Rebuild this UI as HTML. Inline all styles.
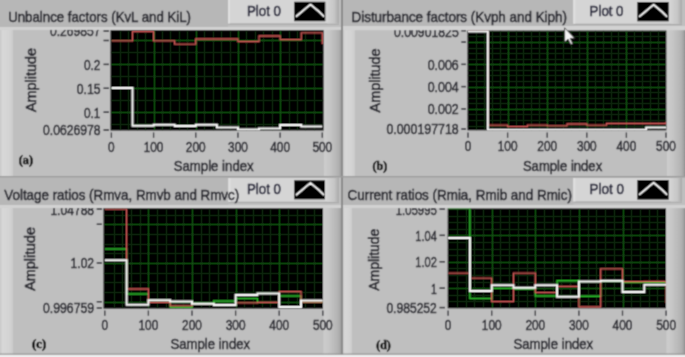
<!DOCTYPE html>
<html><head><meta charset="utf-8"><title>Charts</title>
<style>
html,body{margin:0;padding:0;background:#c3c3c3;}
body{width:685px;height:357px;overflow:hidden;}
svg{display:block;}
</style></head><body>
<svg width="685" height="357" viewBox="0 0 685 357">
<defs><filter id="bl" x="0" y="0" width="1" height="1"><feConvolveMatrix order="3" kernelMatrix="1 3 1 3 9 3 1 3 1" edgeMode="duplicate"/></filter><linearGradient id="rgrad" x1="0" x2="1" y1="0" y2="0"><stop offset="0" stop-color="#cdcdcd"/><stop offset="0.3" stop-color="#c6c6c6"/><stop offset="0.75" stop-color="#b4b4b4"/><stop offset="0.9" stop-color="#a8a8a8"/><stop offset="1" stop-color="#8e8e8e"/></linearGradient><linearGradient id="lsg" x1="0" x2="1" y1="0" y2="0"><stop offset="0" stop-color="#c8c8c8"/><stop offset="0.2" stop-color="#d8d8d8"/><stop offset="0.8" stop-color="#d2d2d2"/><stop offset="1" stop-color="#cacaca"/></linearGradient><linearGradient id="lgrad" x1="0" x2="1" y1="0" y2="0"><stop offset="0" stop-color="#d3d3d3"/><stop offset="0.6" stop-color="#c6c6c6"/><stop offset="1" stop-color="#a8a8a8"/></linearGradient></defs>
<g filter="url(#bl)">
<rect width="685" height="357" fill="#bfbfbf"/>
<rect x="0" y="0" width="342" height="177" fill="#bfbfbf"/>
<rect x="0" y="27" width="13" height="150" fill="url(#lsg)"/>
<rect x="324" y="27" width="18" height="150" fill="url(#rgrad)"/>
<clipPath id="ca"><rect x="110.5" y="30.2" width="213.10000000000002" height="100.3"/></clipPath>
<rect x="110.5" y="30.2" width="213.10000000000002" height="100.3" fill="#000"/>
<g clip-path="url(#ca)">
<line x1="120.50" y1="30.2" x2="120.50" y2="130.5" stroke="#092b09" stroke-width="1"/>
<line x1="128.50" y1="30.2" x2="128.50" y2="130.5" stroke="#092b09" stroke-width="1"/>
<line x1="137.50" y1="30.2" x2="137.50" y2="130.5" stroke="#092b09" stroke-width="1"/>
<line x1="145.50" y1="30.2" x2="145.50" y2="130.5" stroke="#092b09" stroke-width="1"/>
<line x1="162.50" y1="30.2" x2="162.50" y2="130.5" stroke="#092b09" stroke-width="1"/>
<line x1="170.50" y1="30.2" x2="170.50" y2="130.5" stroke="#092b09" stroke-width="1"/>
<line x1="179.50" y1="30.2" x2="179.50" y2="130.5" stroke="#092b09" stroke-width="1"/>
<line x1="187.50" y1="30.2" x2="187.50" y2="130.5" stroke="#092b09" stroke-width="1"/>
<line x1="204.50" y1="30.2" x2="204.50" y2="130.5" stroke="#092b09" stroke-width="1"/>
<line x1="213.50" y1="30.2" x2="213.50" y2="130.5" stroke="#092b09" stroke-width="1"/>
<line x1="221.50" y1="30.2" x2="221.50" y2="130.5" stroke="#092b09" stroke-width="1"/>
<line x1="230.50" y1="30.2" x2="230.50" y2="130.5" stroke="#092b09" stroke-width="1"/>
<line x1="246.50" y1="30.2" x2="246.50" y2="130.5" stroke="#092b09" stroke-width="1"/>
<line x1="255.50" y1="30.2" x2="255.50" y2="130.5" stroke="#092b09" stroke-width="1"/>
<line x1="263.50" y1="30.2" x2="263.50" y2="130.5" stroke="#092b09" stroke-width="1"/>
<line x1="272.50" y1="30.2" x2="272.50" y2="130.5" stroke="#092b09" stroke-width="1"/>
<line x1="289.50" y1="30.2" x2="289.50" y2="130.5" stroke="#092b09" stroke-width="1"/>
<line x1="297.50" y1="30.2" x2="297.50" y2="130.5" stroke="#092b09" stroke-width="1"/>
<line x1="305.50" y1="30.2" x2="305.50" y2="130.5" stroke="#092b09" stroke-width="1"/>
<line x1="314.50" y1="30.2" x2="314.50" y2="130.5" stroke="#092b09" stroke-width="1"/>
<line x1="110.5" y1="124.50" x2="323.6" y2="124.50" stroke="#092b09" stroke-width="1"/>
<line x1="110.5" y1="100.50" x2="323.6" y2="100.50" stroke="#092b09" stroke-width="1"/>
<line x1="110.5" y1="76.50" x2="323.6" y2="76.50" stroke="#092b09" stroke-width="1"/>
<line x1="110.5" y1="52.50" x2="323.6" y2="52.50" stroke="#092b09" stroke-width="1"/>
<line x1="154.50" y1="30.2" x2="154.50" y2="130.5" stroke="#135413" stroke-width="1"/>
<line x1="196.50" y1="30.2" x2="196.50" y2="130.5" stroke="#135413" stroke-width="1"/>
<line x1="238.50" y1="30.2" x2="238.50" y2="130.5" stroke="#135413" stroke-width="1"/>
<line x1="280.50" y1="30.2" x2="280.50" y2="130.5" stroke="#135413" stroke-width="1"/>
<line x1="110.5" y1="112.50" x2="323.6" y2="112.50" stroke="#135413" stroke-width="1"/>
<line x1="110.5" y1="88.50" x2="323.6" y2="88.50" stroke="#135413" stroke-width="1"/>
<line x1="110.5" y1="64.50" x2="323.6" y2="64.50" stroke="#135413" stroke-width="1"/>
<line x1="110.5" y1="40.50" x2="323.6" y2="40.50" stroke="#135413" stroke-width="1"/>
<polyline points="111.40,40.90 132.49,40.90 132.49,31.60 153.58,31.60 153.58,40.90 174.67,40.90 174.67,44.10 195.76,44.10 195.76,39.00 216.85,39.00 216.85,39.00 237.94,39.00 237.94,41.60 259.03,41.60 259.03,36.00 280.12,36.00 280.12,39.60 301.21,39.60 301.21,32.90 322.30,32.90 322.30,44.00" fill="none" stroke="#cf5856" stroke-width="1.3" stroke-linejoin="miter"/>
<polyline points="111.40,88.10 132.49,88.10 132.49,125.70 153.58,125.70 153.58,124.70 174.67,124.70 174.67,125.90 195.76,125.90 195.76,124.70 216.85,124.70 216.85,127.40 237.94,127.40 237.94,129.50 259.03,129.50 259.03,128.40 280.12,128.40 280.12,125.00 301.21,125.00 301.21,126.50 322.30,126.50" fill="none" stroke="#f8f8f8" stroke-width="2.0" stroke-linejoin="miter"/>
</g>
<text x="50.00" y="36.20" font-family="'Liberation Sans', 'DejaVu Sans', sans-serif" font-size="14.5" font-weight="normal" fill="#24242c" textLength="50.50" lengthAdjust="spacingAndGlyphs" stroke="#24242c" stroke-width="0.5">0.269857</text>
<text x="83.90" y="69.78" font-family="'Liberation Sans', 'DejaVu Sans', sans-serif" font-size="14.5" font-weight="normal" fill="#24242c" textLength="16.60" lengthAdjust="spacingAndGlyphs" stroke="#24242c" stroke-width="0.5">0.2</text>
<text x="76.70" y="93.68" font-family="'Liberation Sans', 'DejaVu Sans', sans-serif" font-size="14.5" font-weight="normal" fill="#24242c" textLength="23.80" lengthAdjust="spacingAndGlyphs" stroke="#24242c" stroke-width="0.5">0.15</text>
<text x="83.90" y="117.57" font-family="'Liberation Sans', 'DejaVu Sans', sans-serif" font-size="14.5" font-weight="normal" fill="#24242c" textLength="16.60" lengthAdjust="spacingAndGlyphs" stroke="#24242c" stroke-width="0.5">0.1</text>
<text x="43.00" y="135.40" font-family="'Liberation Sans', 'DejaVu Sans', sans-serif" font-size="14.5" font-weight="normal" fill="#24242c" textLength="57.50" lengthAdjust="spacingAndGlyphs" stroke="#24242c" stroke-width="0.5">0.0626978</text>
<line x1="103.5" y1="31.00" x2="109" y2="31.00" stroke="#24242c" stroke-width="1.5"/>
<line x1="103.5" y1="40.49" x2="109" y2="40.49" stroke="#24242c" stroke-width="1.5"/>
<line x1="103.5" y1="64.38" x2="109" y2="64.38" stroke="#24242c" stroke-width="1.5"/>
<line x1="103.5" y1="88.28" x2="109" y2="88.28" stroke="#24242c" stroke-width="1.5"/>
<line x1="103.5" y1="112.17" x2="109" y2="112.17" stroke="#24242c" stroke-width="1.5"/>
<line x1="103.5" y1="130.00" x2="109" y2="130.00" stroke="#24242c" stroke-width="1.5"/>
<line x1="111.40" y1="132.5" x2="111.40" y2="137.8" stroke="#24242c" stroke-width="1.3"/>
<text x="108.10" y="151.60" font-family="'Liberation Sans', 'DejaVu Sans', sans-serif" font-size="14" font-weight="normal" fill="#24242c" textLength="6.60" lengthAdjust="spacingAndGlyphs" stroke="#24242c" stroke-width="0.5">0</text>
<line x1="153.58" y1="132.5" x2="153.58" y2="137.8" stroke="#24242c" stroke-width="1.3"/>
<text x="143.68" y="151.60" font-family="'Liberation Sans', 'DejaVu Sans', sans-serif" font-size="14" font-weight="normal" fill="#24242c" textLength="19.80" lengthAdjust="spacingAndGlyphs" stroke="#24242c" stroke-width="0.5">100</text>
<line x1="195.76" y1="132.5" x2="195.76" y2="137.8" stroke="#24242c" stroke-width="1.3"/>
<text x="185.86" y="151.60" font-family="'Liberation Sans', 'DejaVu Sans', sans-serif" font-size="14" font-weight="normal" fill="#24242c" textLength="19.80" lengthAdjust="spacingAndGlyphs" stroke="#24242c" stroke-width="0.5">200</text>
<line x1="237.94" y1="132.5" x2="237.94" y2="137.8" stroke="#24242c" stroke-width="1.3"/>
<text x="228.04" y="151.60" font-family="'Liberation Sans', 'DejaVu Sans', sans-serif" font-size="14" font-weight="normal" fill="#24242c" textLength="19.80" lengthAdjust="spacingAndGlyphs" stroke="#24242c" stroke-width="0.5">300</text>
<line x1="280.12" y1="132.5" x2="280.12" y2="137.8" stroke="#24242c" stroke-width="1.3"/>
<text x="270.22" y="151.60" font-family="'Liberation Sans', 'DejaVu Sans', sans-serif" font-size="14" font-weight="normal" fill="#24242c" textLength="19.80" lengthAdjust="spacingAndGlyphs" stroke="#24242c" stroke-width="0.5">400</text>
<line x1="322.30" y1="132.5" x2="322.30" y2="137.8" stroke="#24242c" stroke-width="1.3"/>
<text x="312.40" y="151.60" font-family="'Liberation Sans', 'DejaVu Sans', sans-serif" font-size="14" font-weight="normal" fill="#24242c" textLength="19.80" lengthAdjust="spacingAndGlyphs" stroke="#24242c" stroke-width="0.5">500</text>
<text x="173.70" y="170.60" font-family="'Liberation Sans', 'DejaVu Sans', sans-serif" font-size="14" font-weight="normal" fill="#24242c" textLength="80.00" lengthAdjust="spacingAndGlyphs" stroke="#24242c" stroke-width="0.5">Sample index</text>
<text transform="translate(36.0,112.0) rotate(-90)" x="0" y="0" font-family="'Liberation Sans', 'DejaVu Sans', sans-serif" font-size="14" fill="#24242c" stroke="#24242c" stroke-width="0.55" textLength="63.90" lengthAdjust="spacingAndGlyphs">Amplitude</text>
<text x="18.70" y="164.20" font-family="'Liberation Serif', 'DejaVu Serif', serif" font-size="12" font-weight="bold" fill="#000" textLength="14.30" lengthAdjust="spacingAndGlyphs" stroke="#000" stroke-width="0.55">(a)</text>
<rect x="0" y="0" width="228" height="27" fill="#b7b7b7"/>
<rect x="0" y="27" width="342" height="2.90" fill="#d2d2d2"/>
<rect x="228" y="0" width="111" height="23.5" fill="#d5d5d5"/>
<rect x="228" y="23.5" width="111" height="1.3" fill="#a9a9a9"/>
<rect x="228" y="0" width="2" height="23.5" fill="#e0e0e0"/>
<rect x="327.3" y="0" width="11.699999999999989" height="23.5" fill="url(#lgrad)"/>
<text x="8.20" y="22.00" font-family="'Liberation Sans', 'DejaVu Sans', sans-serif" font-size="14.8" font-weight="normal" fill="#24242c" textLength="182.80" lengthAdjust="spacingAndGlyphs" stroke="#24242c" stroke-width="0.55">Unbalnce factors (KvL and KiL)</text>
<text x="247.00" y="15.80" font-family="'Liberation Sans', 'DejaVu Sans', sans-serif" font-size="14" font-weight="normal" fill="#2a2a3e" textLength="34.00" lengthAdjust="spacingAndGlyphs" stroke="#2a2a3e" stroke-width="0.6">Plot 0</text>
<rect x="294.2" y="1.8" width="31.100000000000023" height="19.4" fill="#000"/>
<polyline points="296.40,16.20 301.20,12.30 305.70,8.40 310.50,4.50 314.20,7.60 319.20,11.80 323.60,16.20" fill="none" stroke="#f4f4f4" stroke-width="1.8" stroke-linejoin="round" stroke-linecap="round"/>
<rect x="343" y="0" width="342" height="177" fill="#bfbfbf"/>
<rect x="343" y="26" width="12" height="151" fill="url(#lsg)"/>
<rect x="667" y="26" width="18" height="151" fill="url(#rgrad)"/>
<clipPath id="cb"><rect x="467.5" y="30.5" width="198.79999999999995" height="99.80000000000001"/></clipPath>
<rect x="467.5" y="30.5" width="198.79999999999995" height="99.80000000000001" fill="#000"/>
<g clip-path="url(#cb)">
<line x1="476.50" y1="30.5" x2="476.50" y2="130.3" stroke="#092b09" stroke-width="1"/>
<line x1="484.50" y1="30.5" x2="484.50" y2="130.3" stroke="#092b09" stroke-width="1"/>
<line x1="492.50" y1="30.5" x2="492.50" y2="130.3" stroke="#092b09" stroke-width="1"/>
<line x1="500.50" y1="30.5" x2="500.50" y2="130.3" stroke="#092b09" stroke-width="1"/>
<line x1="516.50" y1="30.5" x2="516.50" y2="130.3" stroke="#092b09" stroke-width="1"/>
<line x1="523.50" y1="30.5" x2="523.50" y2="130.3" stroke="#092b09" stroke-width="1"/>
<line x1="531.50" y1="30.5" x2="531.50" y2="130.3" stroke="#092b09" stroke-width="1"/>
<line x1="539.50" y1="30.5" x2="539.50" y2="130.3" stroke="#092b09" stroke-width="1"/>
<line x1="555.50" y1="30.5" x2="555.50" y2="130.3" stroke="#092b09" stroke-width="1"/>
<line x1="563.50" y1="30.5" x2="563.50" y2="130.3" stroke="#092b09" stroke-width="1"/>
<line x1="571.50" y1="30.5" x2="571.50" y2="130.3" stroke="#092b09" stroke-width="1"/>
<line x1="579.50" y1="30.5" x2="579.50" y2="130.3" stroke="#092b09" stroke-width="1"/>
<line x1="595.50" y1="30.5" x2="595.50" y2="130.3" stroke="#092b09" stroke-width="1"/>
<line x1="603.50" y1="30.5" x2="603.50" y2="130.3" stroke="#092b09" stroke-width="1"/>
<line x1="611.50" y1="30.5" x2="611.50" y2="130.3" stroke="#092b09" stroke-width="1"/>
<line x1="618.50" y1="30.5" x2="618.50" y2="130.3" stroke="#092b09" stroke-width="1"/>
<line x1="634.50" y1="30.5" x2="634.50" y2="130.3" stroke="#092b09" stroke-width="1"/>
<line x1="642.50" y1="30.5" x2="642.50" y2="130.3" stroke="#092b09" stroke-width="1"/>
<line x1="650.50" y1="30.5" x2="650.50" y2="130.3" stroke="#092b09" stroke-width="1"/>
<line x1="658.50" y1="30.5" x2="658.50" y2="130.3" stroke="#092b09" stroke-width="1"/>
<line x1="467.5" y1="126.50" x2="666.3" y2="126.50" stroke="#092b09" stroke-width="1"/>
<line x1="467.5" y1="120.50" x2="666.3" y2="120.50" stroke="#092b09" stroke-width="1"/>
<line x1="467.5" y1="114.50" x2="666.3" y2="114.50" stroke="#092b09" stroke-width="1"/>
<line x1="467.5" y1="103.50" x2="666.3" y2="103.50" stroke="#092b09" stroke-width="1"/>
<line x1="467.5" y1="98.50" x2="666.3" y2="98.50" stroke="#092b09" stroke-width="1"/>
<line x1="467.5" y1="92.50" x2="666.3" y2="92.50" stroke="#092b09" stroke-width="1"/>
<line x1="467.5" y1="81.50" x2="666.3" y2="81.50" stroke="#092b09" stroke-width="1"/>
<line x1="467.5" y1="75.50" x2="666.3" y2="75.50" stroke="#092b09" stroke-width="1"/>
<line x1="467.5" y1="70.50" x2="666.3" y2="70.50" stroke="#092b09" stroke-width="1"/>
<line x1="467.5" y1="59.50" x2="666.3" y2="59.50" stroke="#092b09" stroke-width="1"/>
<line x1="467.5" y1="53.50" x2="666.3" y2="53.50" stroke="#092b09" stroke-width="1"/>
<line x1="467.5" y1="48.50" x2="666.3" y2="48.50" stroke="#092b09" stroke-width="1"/>
<line x1="467.5" y1="36.50" x2="666.3" y2="36.50" stroke="#092b09" stroke-width="1"/>
<line x1="467.5" y1="31.50" x2="666.3" y2="31.50" stroke="#092b09" stroke-width="1"/>
<line x1="508.50" y1="30.5" x2="508.50" y2="130.3" stroke="#135413" stroke-width="1"/>
<line x1="547.50" y1="30.5" x2="547.50" y2="130.3" stroke="#135413" stroke-width="1"/>
<line x1="587.50" y1="30.5" x2="587.50" y2="130.3" stroke="#135413" stroke-width="1"/>
<line x1="626.50" y1="30.5" x2="626.50" y2="130.3" stroke="#135413" stroke-width="1"/>
<line x1="467.5" y1="109.50" x2="666.3" y2="109.50" stroke="#135413" stroke-width="1"/>
<line x1="467.5" y1="87.50" x2="666.3" y2="87.50" stroke="#135413" stroke-width="1"/>
<line x1="467.5" y1="64.50" x2="666.3" y2="64.50" stroke="#135413" stroke-width="1"/>
<line x1="467.5" y1="42.50" x2="666.3" y2="42.50" stroke="#135413" stroke-width="1"/>
<polyline points="468.00,31.20 487.80,31.20 487.80,125.10 507.60,125.10 507.60,126.70 527.40,126.70 527.40,125.10 547.20,125.10 547.20,125.90 567.00,125.90 567.00,124.00 586.80,124.00 586.80,125.10 606.60,125.10 606.60,123.50 626.40,123.50 626.40,123.50 646.20,123.50 646.20,123.50 666.00,123.50 666.00,122.00" fill="none" stroke="#cf5856" stroke-width="1.3" stroke-linejoin="miter"/>
<polyline points="468.00,31.40 487.80,31.40 487.80,129.70 507.60,129.70 507.60,129.70 527.40,129.70 527.40,129.70 547.20,129.70 547.20,129.70 567.00,129.70 567.00,129.70 586.80,129.70 586.80,129.70 606.60,129.70 606.60,129.70 626.40,129.70 626.40,129.70 646.20,129.70 646.20,127.60 666.00,127.60" fill="none" stroke="#f8f8f8" stroke-width="2.0" stroke-linejoin="miter"/>
</g>
<text x="394.00" y="36.70" font-family="'Liberation Sans', 'DejaVu Sans', sans-serif" font-size="14.5" font-weight="normal" fill="#24242c" textLength="64.70" lengthAdjust="spacingAndGlyphs" stroke="#24242c" stroke-width="0.5">0.00901825</text>
<text x="427.70" y="69.74" font-family="'Liberation Sans', 'DejaVu Sans', sans-serif" font-size="14.5" font-weight="normal" fill="#24242c" textLength="31.00" lengthAdjust="spacingAndGlyphs" stroke="#24242c" stroke-width="0.5">0.006</text>
<text x="427.70" y="92.03" font-family="'Liberation Sans', 'DejaVu Sans', sans-serif" font-size="14.5" font-weight="normal" fill="#24242c" textLength="31.00" lengthAdjust="spacingAndGlyphs" stroke="#24242c" stroke-width="0.5">0.004</text>
<text x="427.70" y="114.31" font-family="'Liberation Sans', 'DejaVu Sans', sans-serif" font-size="14.5" font-weight="normal" fill="#24242c" textLength="31.00" lengthAdjust="spacingAndGlyphs" stroke="#24242c" stroke-width="0.5">0.002</text>
<text x="386.40" y="134.40" font-family="'Liberation Sans', 'DejaVu Sans', sans-serif" font-size="14.5" font-weight="normal" fill="#24242c" textLength="72.30" lengthAdjust="spacingAndGlyphs" stroke="#24242c" stroke-width="0.5">0.000197718</text>
<line x1="461.3" y1="30.70" x2="466" y2="30.70" stroke="#24242c" stroke-width="1.5"/>
<line x1="461.3" y1="42.05" x2="466" y2="42.05" stroke="#24242c" stroke-width="1.5"/>
<line x1="461.3" y1="64.34" x2="466" y2="64.34" stroke="#24242c" stroke-width="1.5"/>
<line x1="461.3" y1="86.63" x2="466" y2="86.63" stroke="#24242c" stroke-width="1.5"/>
<line x1="461.3" y1="108.91" x2="466" y2="108.91" stroke="#24242c" stroke-width="1.5"/>
<line x1="461.3" y1="129.00" x2="466" y2="129.00" stroke="#24242c" stroke-width="1.5"/>
<line x1="468.00" y1="132.5" x2="468.00" y2="137.8" stroke="#24242c" stroke-width="1.3"/>
<text x="464.70" y="151.40" font-family="'Liberation Sans', 'DejaVu Sans', sans-serif" font-size="14" font-weight="normal" fill="#24242c" textLength="6.60" lengthAdjust="spacingAndGlyphs" stroke="#24242c" stroke-width="0.5">0</text>
<line x1="507.60" y1="132.5" x2="507.60" y2="137.8" stroke="#24242c" stroke-width="1.3"/>
<text x="497.70" y="151.40" font-family="'Liberation Sans', 'DejaVu Sans', sans-serif" font-size="14" font-weight="normal" fill="#24242c" textLength="19.80" lengthAdjust="spacingAndGlyphs" stroke="#24242c" stroke-width="0.5">100</text>
<line x1="547.20" y1="132.5" x2="547.20" y2="137.8" stroke="#24242c" stroke-width="1.3"/>
<text x="537.30" y="151.40" font-family="'Liberation Sans', 'DejaVu Sans', sans-serif" font-size="14" font-weight="normal" fill="#24242c" textLength="19.80" lengthAdjust="spacingAndGlyphs" stroke="#24242c" stroke-width="0.5">200</text>
<line x1="586.80" y1="132.5" x2="586.80" y2="137.8" stroke="#24242c" stroke-width="1.3"/>
<text x="576.90" y="151.40" font-family="'Liberation Sans', 'DejaVu Sans', sans-serif" font-size="14" font-weight="normal" fill="#24242c" textLength="19.80" lengthAdjust="spacingAndGlyphs" stroke="#24242c" stroke-width="0.5">300</text>
<line x1="626.40" y1="132.5" x2="626.40" y2="137.8" stroke="#24242c" stroke-width="1.3"/>
<text x="616.50" y="151.40" font-family="'Liberation Sans', 'DejaVu Sans', sans-serif" font-size="14" font-weight="normal" fill="#24242c" textLength="19.80" lengthAdjust="spacingAndGlyphs" stroke="#24242c" stroke-width="0.5">400</text>
<line x1="666.00" y1="132.5" x2="666.00" y2="137.8" stroke="#24242c" stroke-width="1.3"/>
<text x="656.10" y="151.40" font-family="'Liberation Sans', 'DejaVu Sans', sans-serif" font-size="14" font-weight="normal" fill="#24242c" textLength="19.80" lengthAdjust="spacingAndGlyphs" stroke="#24242c" stroke-width="0.5">500</text>
<text x="522.90" y="170.90" font-family="'Liberation Sans', 'DejaVu Sans', sans-serif" font-size="14" font-weight="normal" fill="#24242c" textLength="79.30" lengthAdjust="spacingAndGlyphs" stroke="#24242c" stroke-width="0.5">Sample index</text>
<text transform="translate(380.3,112.4) rotate(-90)" x="0" y="0" font-family="'Liberation Sans', 'DejaVu Sans', sans-serif" font-size="14" fill="#24242c" stroke="#24242c" stroke-width="0.55" textLength="63.90" lengthAdjust="spacingAndGlyphs">Amplitude</text>
<text x="372.50" y="170.20" font-family="'Liberation Serif', 'DejaVu Serif', serif" font-size="12" font-weight="bold" fill="#000" textLength="14.90" lengthAdjust="spacingAndGlyphs" stroke="#000" stroke-width="0.55">(b)</text>
<rect x="343" y="0" width="230.29999999999995" height="26" fill="#b7b7b7"/>
<rect x="343" y="26" width="342" height="4.20" fill="#d2d2d2"/>
<rect x="573.3" y="0" width="108.70000000000005" height="23.8" fill="#d5d5d5"/>
<rect x="573.3" y="23.8" width="108.70000000000005" height="1.3" fill="#a9a9a9"/>
<rect x="573.3" y="0" width="2" height="23.8" fill="#e0e0e0"/>
<rect x="670.7" y="0" width="11.299999999999955" height="23.8" fill="url(#lgrad)"/>
<text x="351.50" y="22.00" font-family="'Liberation Sans', 'DejaVu Sans', sans-serif" font-size="14.8" font-weight="normal" fill="#24242c" textLength="215.50" lengthAdjust="spacingAndGlyphs" stroke="#24242c" stroke-width="0.55">Disturbance factors (Kvph and Kiph)</text>
<text x="589.60" y="15.60" font-family="'Liberation Sans', 'DejaVu Sans', sans-serif" font-size="14" font-weight="normal" fill="#2a2a3e" textLength="33.90" lengthAdjust="spacingAndGlyphs" stroke="#2a2a3e" stroke-width="0.6">Plot 0</text>
<rect x="637.3" y="2.0" width="31.40000000000009" height="19.3" fill="#000"/>
<polyline points="639.50,16.40 644.30,12.50 648.80,8.60 653.60,4.70 657.30,7.80 662.30,12.00 666.70,16.40" fill="none" stroke="#f4f4f4" stroke-width="1.8" stroke-linejoin="round" stroke-linecap="round"/>
<rect x="0" y="178" width="342" height="179" fill="#bfbfbf"/>
<rect x="0" y="205" width="13" height="152" fill="url(#lsg)"/>
<rect x="323.5" y="205" width="18.5" height="152" fill="url(#rgrad)"/>
<clipPath id="cc"><rect x="103.5" y="208.3" width="219.5" height="100.30000000000001"/></clipPath>
<rect x="103.5" y="208.3" width="219.5" height="100.30000000000001" fill="#000"/>
<g clip-path="url(#cc)">
<line x1="114.50" y1="208.3" x2="114.50" y2="308.6" stroke="#092b09" stroke-width="1"/>
<line x1="122.50" y1="208.3" x2="122.50" y2="308.6" stroke="#092b09" stroke-width="1"/>
<line x1="131.50" y1="208.3" x2="131.50" y2="308.6" stroke="#092b09" stroke-width="1"/>
<line x1="140.50" y1="208.3" x2="140.50" y2="308.6" stroke="#092b09" stroke-width="1"/>
<line x1="157.50" y1="208.3" x2="157.50" y2="308.6" stroke="#092b09" stroke-width="1"/>
<line x1="166.50" y1="208.3" x2="166.50" y2="308.6" stroke="#092b09" stroke-width="1"/>
<line x1="175.50" y1="208.3" x2="175.50" y2="308.6" stroke="#092b09" stroke-width="1"/>
<line x1="183.50" y1="208.3" x2="183.50" y2="308.6" stroke="#092b09" stroke-width="1"/>
<line x1="201.50" y1="208.3" x2="201.50" y2="308.6" stroke="#092b09" stroke-width="1"/>
<line x1="209.50" y1="208.3" x2="209.50" y2="308.6" stroke="#092b09" stroke-width="1"/>
<line x1="218.50" y1="208.3" x2="218.50" y2="308.6" stroke="#092b09" stroke-width="1"/>
<line x1="227.50" y1="208.3" x2="227.50" y2="308.6" stroke="#092b09" stroke-width="1"/>
<line x1="244.50" y1="208.3" x2="244.50" y2="308.6" stroke="#092b09" stroke-width="1"/>
<line x1="253.50" y1="208.3" x2="253.50" y2="308.6" stroke="#092b09" stroke-width="1"/>
<line x1="262.50" y1="208.3" x2="262.50" y2="308.6" stroke="#092b09" stroke-width="1"/>
<line x1="270.50" y1="208.3" x2="270.50" y2="308.6" stroke="#092b09" stroke-width="1"/>
<line x1="288.50" y1="208.3" x2="288.50" y2="308.6" stroke="#092b09" stroke-width="1"/>
<line x1="297.50" y1="208.3" x2="297.50" y2="308.6" stroke="#092b09" stroke-width="1"/>
<line x1="305.50" y1="208.3" x2="305.50" y2="308.6" stroke="#092b09" stroke-width="1"/>
<line x1="314.50" y1="208.3" x2="314.50" y2="308.6" stroke="#092b09" stroke-width="1"/>
<line x1="103.5" y1="292.50" x2="323.0" y2="292.50" stroke="#092b09" stroke-width="1"/>
<line x1="103.5" y1="282.50" x2="323.0" y2="282.50" stroke="#092b09" stroke-width="1"/>
<line x1="103.5" y1="273.50" x2="323.0" y2="273.50" stroke="#092b09" stroke-width="1"/>
<line x1="103.5" y1="253.50" x2="323.0" y2="253.50" stroke="#092b09" stroke-width="1"/>
<line x1="103.5" y1="244.50" x2="323.0" y2="244.50" stroke="#092b09" stroke-width="1"/>
<line x1="103.5" y1="234.50" x2="323.0" y2="234.50" stroke="#092b09" stroke-width="1"/>
<line x1="103.5" y1="215.50" x2="323.0" y2="215.50" stroke="#092b09" stroke-width="1"/>
<line x1="148.50" y1="208.3" x2="148.50" y2="308.6" stroke="#135413" stroke-width="1"/>
<line x1="192.50" y1="208.3" x2="192.50" y2="308.6" stroke="#135413" stroke-width="1"/>
<line x1="236.50" y1="208.3" x2="236.50" y2="308.6" stroke="#135413" stroke-width="1"/>
<line x1="279.50" y1="208.3" x2="279.50" y2="308.6" stroke="#135413" stroke-width="1"/>
<line x1="103.5" y1="302.50" x2="323.0" y2="302.50" stroke="#135413" stroke-width="1"/>
<line x1="103.5" y1="263.50" x2="323.0" y2="263.50" stroke="#135413" stroke-width="1"/>
<line x1="103.5" y1="224.50" x2="323.0" y2="224.50" stroke="#135413" stroke-width="1"/>
<polyline points="104.80,249.10 126.60,249.10 126.60,293.90 148.40,293.90 148.40,300.50 170.20,300.50 170.20,307.20 192.00,307.20 192.00,303.50 213.80,303.50 213.80,301.10 235.60,301.10 235.60,298.50 257.40,298.50 257.40,302.40 279.20,302.40 279.20,296.10 301.00,296.10 301.00,302.20 322.80,302.20" fill="none" stroke="#2cb82c" stroke-width="1.5" stroke-linejoin="miter"/>
<polyline points="104.80,209.20 126.60,209.20 126.60,289.00 148.40,289.00 148.40,302.40 170.20,302.40 170.20,305.90 192.00,305.90 192.00,303.70 213.80,303.70 213.80,304.90 235.60,304.90 235.60,302.80 257.40,302.80 257.40,302.40 279.20,302.40 279.20,291.70 301.00,291.70 301.00,302.20 322.80,302.20" fill="none" stroke="#cf5856" stroke-width="1.3" stroke-linejoin="miter"/>
<polyline points="104.80,260.20 126.60,260.20 126.60,304.80 148.40,304.80 148.40,300.20 170.20,300.20 170.20,301.40 192.00,301.40 192.00,303.70 213.80,303.70 213.80,304.90 235.60,304.90 235.60,295.00 257.40,295.00 257.40,293.40 279.20,293.40 279.20,307.10 301.00,307.10 301.00,300.40 322.80,300.40" fill="none" stroke="#f8f8f8" stroke-width="2.0" stroke-linejoin="miter"/>
</g>
<text x="50.40" y="214.50" font-family="'Liberation Sans', 'DejaVu Sans', sans-serif" font-size="14.5" font-weight="normal" fill="#24242c" textLength="43.70" lengthAdjust="spacingAndGlyphs" stroke="#24242c" stroke-width="0.5">1.04788</text>
<text x="70.60" y="268.39" font-family="'Liberation Sans', 'DejaVu Sans', sans-serif" font-size="14.5" font-weight="normal" fill="#24242c" textLength="23.50" lengthAdjust="spacingAndGlyphs" stroke="#24242c" stroke-width="0.5">1.02</text>
<text x="43.00" y="313.40" font-family="'Liberation Sans', 'DejaVu Sans', sans-serif" font-size="14.5" font-weight="normal" fill="#24242c" textLength="51.10" lengthAdjust="spacingAndGlyphs" stroke="#24242c" stroke-width="0.5">0.996759</text>
<line x1="96.7" y1="209.00" x2="102" y2="209.00" stroke="#24242c" stroke-width="1.5"/>
<line x1="96.7" y1="224.26" x2="102" y2="224.26" stroke="#24242c" stroke-width="1.5"/>
<line x1="96.7" y1="262.99" x2="102" y2="262.99" stroke="#24242c" stroke-width="1.5"/>
<line x1="96.7" y1="301.72" x2="102" y2="301.72" stroke="#24242c" stroke-width="1.5"/>
<line x1="96.7" y1="308.00" x2="102" y2="308.00" stroke="#24242c" stroke-width="1.5"/>
<line x1="104.80" y1="310.5" x2="104.80" y2="315.7" stroke="#24242c" stroke-width="1.3"/>
<text x="101.50" y="330.30" font-family="'Liberation Sans', 'DejaVu Sans', sans-serif" font-size="14" font-weight="normal" fill="#24242c" textLength="6.60" lengthAdjust="spacingAndGlyphs" stroke="#24242c" stroke-width="0.5">0</text>
<line x1="148.40" y1="310.5" x2="148.40" y2="315.7" stroke="#24242c" stroke-width="1.3"/>
<text x="138.50" y="330.30" font-family="'Liberation Sans', 'DejaVu Sans', sans-serif" font-size="14" font-weight="normal" fill="#24242c" textLength="19.80" lengthAdjust="spacingAndGlyphs" stroke="#24242c" stroke-width="0.5">100</text>
<line x1="192.00" y1="310.5" x2="192.00" y2="315.7" stroke="#24242c" stroke-width="1.3"/>
<text x="182.10" y="330.30" font-family="'Liberation Sans', 'DejaVu Sans', sans-serif" font-size="14" font-weight="normal" fill="#24242c" textLength="19.80" lengthAdjust="spacingAndGlyphs" stroke="#24242c" stroke-width="0.5">200</text>
<line x1="235.60" y1="310.5" x2="235.60" y2="315.7" stroke="#24242c" stroke-width="1.3"/>
<text x="225.70" y="330.30" font-family="'Liberation Sans', 'DejaVu Sans', sans-serif" font-size="14" font-weight="normal" fill="#24242c" textLength="19.80" lengthAdjust="spacingAndGlyphs" stroke="#24242c" stroke-width="0.5">300</text>
<line x1="279.20" y1="310.5" x2="279.20" y2="315.7" stroke="#24242c" stroke-width="1.3"/>
<text x="269.30" y="330.30" font-family="'Liberation Sans', 'DejaVu Sans', sans-serif" font-size="14" font-weight="normal" fill="#24242c" textLength="19.80" lengthAdjust="spacingAndGlyphs" stroke="#24242c" stroke-width="0.5">400</text>
<line x1="322.80" y1="310.5" x2="322.80" y2="315.7" stroke="#24242c" stroke-width="1.3"/>
<text x="312.90" y="330.30" font-family="'Liberation Sans', 'DejaVu Sans', sans-serif" font-size="14" font-weight="normal" fill="#24242c" textLength="19.80" lengthAdjust="spacingAndGlyphs" stroke="#24242c" stroke-width="0.5">500</text>
<text x="170.40" y="348.80" font-family="'Liberation Sans', 'DejaVu Sans', sans-serif" font-size="14" font-weight="normal" fill="#24242c" textLength="79.70" lengthAdjust="spacingAndGlyphs" stroke="#24242c" stroke-width="0.5">Sample index</text>
<text transform="translate(35.2,290.8) rotate(-90)" x="0" y="0" font-family="'Liberation Sans', 'DejaVu Sans', sans-serif" font-size="14" fill="#24242c" stroke="#24242c" stroke-width="0.55" textLength="63.90" lengthAdjust="spacingAndGlyphs">Amplitude</text>
<text x="32.00" y="348.30" font-family="'Liberation Serif', 'DejaVu Serif', serif" font-size="12" font-weight="bold" fill="#000" textLength="14.20" lengthAdjust="spacingAndGlyphs" stroke="#000" stroke-width="0.55">(c)</text>
<rect x="0" y="178" width="228.4" height="27" fill="#b7b7b7"/>
<rect x="0" y="205" width="342" height="3.00" fill="#d2d2d2"/>
<rect x="228.4" y="178" width="110.6" height="23.8" fill="#d5d5d5"/>
<rect x="228.4" y="201.8" width="110.6" height="1.3" fill="#a9a9a9"/>
<rect x="228.4" y="178" width="2" height="23.8" fill="#e0e0e0"/>
<rect x="326.9" y="178" width="12.100000000000023" height="23.8" fill="url(#lgrad)"/>
<text x="4.30" y="199.60" font-family="'Liberation Sans', 'DejaVu Sans', sans-serif" font-size="14.8" font-weight="normal" fill="#24242c" textLength="234.90" lengthAdjust="spacingAndGlyphs" stroke="#24242c" stroke-width="0.55">Voltage ratios (Rmva, Rmvb and Rmvc)</text>
<text x="247.00" y="194.00" font-family="'Liberation Sans', 'DejaVu Sans', sans-serif" font-size="14" font-weight="normal" fill="#2a2a3e" textLength="33.90" lengthAdjust="spacingAndGlyphs" stroke="#2a2a3e" stroke-width="0.6">Plot 0</text>
<rect x="294.2" y="180.3" width="30.69999999999999" height="19.0" fill="#000"/>
<polyline points="296.40,194.70 301.20,190.80 305.70,186.90 310.50,183.00 314.20,186.10 319.20,190.30 323.60,194.70" fill="none" stroke="#f4f4f4" stroke-width="1.8" stroke-linejoin="round" stroke-linecap="round"/>
<rect x="343" y="178" width="342" height="179" fill="#bfbfbf"/>
<rect x="343" y="205" width="9" height="152" fill="url(#lsg)"/>
<rect x="666.5" y="205" width="18.5" height="152" fill="url(#rgrad)"/>
<clipPath id="cd"><rect x="447.7" y="208.4" width="218.3" height="99.9"/></clipPath>
<rect x="447.7" y="208.4" width="218.3" height="99.9" fill="#000"/>
<g clip-path="url(#cd)">
<line x1="457.50" y1="208.4" x2="457.50" y2="308.3" stroke="#092b09" stroke-width="1"/>
<line x1="466.50" y1="208.4" x2="466.50" y2="308.3" stroke="#092b09" stroke-width="1"/>
<line x1="474.50" y1="208.4" x2="474.50" y2="308.3" stroke="#092b09" stroke-width="1"/>
<line x1="483.50" y1="208.4" x2="483.50" y2="308.3" stroke="#092b09" stroke-width="1"/>
<line x1="500.50" y1="208.4" x2="500.50" y2="308.3" stroke="#092b09" stroke-width="1"/>
<line x1="509.50" y1="208.4" x2="509.50" y2="308.3" stroke="#092b09" stroke-width="1"/>
<line x1="518.50" y1="208.4" x2="518.50" y2="308.3" stroke="#092b09" stroke-width="1"/>
<line x1="527.50" y1="208.4" x2="527.50" y2="308.3" stroke="#092b09" stroke-width="1"/>
<line x1="544.50" y1="208.4" x2="544.50" y2="308.3" stroke="#092b09" stroke-width="1"/>
<line x1="553.50" y1="208.4" x2="553.50" y2="308.3" stroke="#092b09" stroke-width="1"/>
<line x1="561.50" y1="208.4" x2="561.50" y2="308.3" stroke="#092b09" stroke-width="1"/>
<line x1="570.50" y1="208.4" x2="570.50" y2="308.3" stroke="#092b09" stroke-width="1"/>
<line x1="588.50" y1="208.4" x2="588.50" y2="308.3" stroke="#092b09" stroke-width="1"/>
<line x1="596.50" y1="208.4" x2="596.50" y2="308.3" stroke="#092b09" stroke-width="1"/>
<line x1="605.50" y1="208.4" x2="605.50" y2="308.3" stroke="#092b09" stroke-width="1"/>
<line x1="614.50" y1="208.4" x2="614.50" y2="308.3" stroke="#092b09" stroke-width="1"/>
<line x1="631.50" y1="208.4" x2="631.50" y2="308.3" stroke="#092b09" stroke-width="1"/>
<line x1="640.50" y1="208.4" x2="640.50" y2="308.3" stroke="#092b09" stroke-width="1"/>
<line x1="649.50" y1="208.4" x2="649.50" y2="308.3" stroke="#092b09" stroke-width="1"/>
<line x1="657.50" y1="208.4" x2="657.50" y2="308.3" stroke="#092b09" stroke-width="1"/>
<line x1="447.7" y1="301.50" x2="666.0" y2="301.50" stroke="#092b09" stroke-width="1"/>
<line x1="447.7" y1="295.50" x2="666.0" y2="295.50" stroke="#092b09" stroke-width="1"/>
<line x1="447.7" y1="282.50" x2="666.0" y2="282.50" stroke="#092b09" stroke-width="1"/>
<line x1="447.7" y1="275.50" x2="666.0" y2="275.50" stroke="#092b09" stroke-width="1"/>
<line x1="447.7" y1="268.50" x2="666.0" y2="268.50" stroke="#092b09" stroke-width="1"/>
<line x1="447.7" y1="255.50" x2="666.0" y2="255.50" stroke="#092b09" stroke-width="1"/>
<line x1="447.7" y1="249.50" x2="666.0" y2="249.50" stroke="#092b09" stroke-width="1"/>
<line x1="447.7" y1="242.50" x2="666.0" y2="242.50" stroke="#092b09" stroke-width="1"/>
<line x1="447.7" y1="229.50" x2="666.0" y2="229.50" stroke="#092b09" stroke-width="1"/>
<line x1="447.7" y1="222.50" x2="666.0" y2="222.50" stroke="#092b09" stroke-width="1"/>
<line x1="447.7" y1="216.50" x2="666.0" y2="216.50" stroke="#092b09" stroke-width="1"/>
<line x1="492.50" y1="208.4" x2="492.50" y2="308.3" stroke="#135413" stroke-width="1"/>
<line x1="535.50" y1="208.4" x2="535.50" y2="308.3" stroke="#135413" stroke-width="1"/>
<line x1="579.50" y1="208.4" x2="579.50" y2="308.3" stroke="#135413" stroke-width="1"/>
<line x1="623.50" y1="208.4" x2="623.50" y2="308.3" stroke="#135413" stroke-width="1"/>
<line x1="447.7" y1="288.50" x2="666.0" y2="288.50" stroke="#135413" stroke-width="1"/>
<line x1="447.7" y1="262.50" x2="666.0" y2="262.50" stroke="#135413" stroke-width="1"/>
<line x1="447.7" y1="235.50" x2="666.0" y2="235.50" stroke="#135413" stroke-width="1"/>
<polyline points="448.10,208.50 469.90,208.50 469.90,298.60 491.70,298.60 491.70,288.20 513.50,288.20 513.50,288.90 535.30,288.90 535.30,296.10 557.10,296.10 557.10,280.70 578.90,280.70 578.90,296.30 600.70,296.30 600.70,281.00 622.50,281.00 622.50,282.50 644.30,282.50 644.30,282.60 666.10,282.60" fill="none" stroke="#2cb82c" stroke-width="1.5" stroke-linejoin="miter"/>
<polyline points="448.10,273.10 469.90,273.10 469.90,278.10 491.70,278.10 491.70,301.60 513.50,301.60 513.50,273.10 535.30,273.10 535.30,292.70 557.10,292.70 557.10,286.30 578.90,286.30 578.90,307.00 600.70,307.00 600.70,268.90 622.50,268.90 622.50,281.60 644.30,281.60 644.30,281.30 666.10,281.30 666.10,303.00" fill="none" stroke="#cf5856" stroke-width="1.3" stroke-linejoin="miter"/>
<polyline points="448.10,237.90 469.90,237.90 469.90,291.10 491.70,291.10 491.70,285.20 513.50,285.20 513.50,287.70 535.30,287.70 535.30,285.20 557.10,285.20 557.10,296.80 578.90,296.80 578.90,281.50 600.70,281.50 600.70,280.70 622.50,280.70 622.50,292.10 644.30,292.10 644.30,284.70 666.10,284.70" fill="none" stroke="#f8f8f8" stroke-width="2.0" stroke-linejoin="miter"/>
</g>
<text x="395.80" y="214.50" font-family="'Liberation Sans', 'DejaVu Sans', sans-serif" font-size="14.5" font-weight="normal" fill="#24242c" textLength="41.00" lengthAdjust="spacingAndGlyphs" stroke="#24242c" stroke-width="0.5">1.05995</text>
<text x="415.30" y="240.73" font-family="'Liberation Sans', 'DejaVu Sans', sans-serif" font-size="14.5" font-weight="normal" fill="#24242c" textLength="21.50" lengthAdjust="spacingAndGlyphs" stroke="#24242c" stroke-width="0.5">1.04</text>
<text x="415.30" y="267.13" font-family="'Liberation Sans', 'DejaVu Sans', sans-serif" font-size="14.5" font-weight="normal" fill="#24242c" textLength="21.50" lengthAdjust="spacingAndGlyphs" stroke="#24242c" stroke-width="0.5">1.02</text>
<text x="431.00" y="293.53" font-family="'Liberation Sans', 'DejaVu Sans', sans-serif" font-size="14.5" font-weight="normal" fill="#24242c" textLength="5.80" lengthAdjust="spacingAndGlyphs" stroke="#24242c" stroke-width="0.5">1</text>
<text x="386.40" y="313.00" font-family="'Liberation Sans', 'DejaVu Sans', sans-serif" font-size="14.5" font-weight="normal" fill="#24242c" textLength="50.40" lengthAdjust="spacingAndGlyphs" stroke="#24242c" stroke-width="0.5">0.985252</text>
<line x1="439.5" y1="209.00" x2="445" y2="209.00" stroke="#24242c" stroke-width="1.5"/>
<line x1="439.5" y1="235.33" x2="445" y2="235.33" stroke="#24242c" stroke-width="1.5"/>
<line x1="439.5" y1="261.73" x2="445" y2="261.73" stroke="#24242c" stroke-width="1.5"/>
<line x1="439.5" y1="288.13" x2="445" y2="288.13" stroke="#24242c" stroke-width="1.5"/>
<line x1="439.5" y1="307.60" x2="445" y2="307.60" stroke="#24242c" stroke-width="1.5"/>
<line x1="448.10" y1="310.5" x2="448.10" y2="315.7" stroke="#24242c" stroke-width="1.3"/>
<text x="444.80" y="330.30" font-family="'Liberation Sans', 'DejaVu Sans', sans-serif" font-size="14" font-weight="normal" fill="#24242c" textLength="6.60" lengthAdjust="spacingAndGlyphs" stroke="#24242c" stroke-width="0.5">0</text>
<line x1="491.70" y1="310.5" x2="491.70" y2="315.7" stroke="#24242c" stroke-width="1.3"/>
<text x="481.80" y="330.30" font-family="'Liberation Sans', 'DejaVu Sans', sans-serif" font-size="14" font-weight="normal" fill="#24242c" textLength="19.80" lengthAdjust="spacingAndGlyphs" stroke="#24242c" stroke-width="0.5">100</text>
<line x1="535.30" y1="310.5" x2="535.30" y2="315.7" stroke="#24242c" stroke-width="1.3"/>
<text x="525.40" y="330.30" font-family="'Liberation Sans', 'DejaVu Sans', sans-serif" font-size="14" font-weight="normal" fill="#24242c" textLength="19.80" lengthAdjust="spacingAndGlyphs" stroke="#24242c" stroke-width="0.5">200</text>
<line x1="578.90" y1="310.5" x2="578.90" y2="315.7" stroke="#24242c" stroke-width="1.3"/>
<text x="569.00" y="330.30" font-family="'Liberation Sans', 'DejaVu Sans', sans-serif" font-size="14" font-weight="normal" fill="#24242c" textLength="19.80" lengthAdjust="spacingAndGlyphs" stroke="#24242c" stroke-width="0.5">300</text>
<line x1="622.50" y1="310.5" x2="622.50" y2="315.7" stroke="#24242c" stroke-width="1.3"/>
<text x="612.60" y="330.30" font-family="'Liberation Sans', 'DejaVu Sans', sans-serif" font-size="14" font-weight="normal" fill="#24242c" textLength="19.80" lengthAdjust="spacingAndGlyphs" stroke="#24242c" stroke-width="0.5">400</text>
<line x1="666.10" y1="310.5" x2="666.10" y2="315.7" stroke="#24242c" stroke-width="1.3"/>
<text x="656.20" y="330.30" font-family="'Liberation Sans', 'DejaVu Sans', sans-serif" font-size="14" font-weight="normal" fill="#24242c" textLength="19.80" lengthAdjust="spacingAndGlyphs" stroke="#24242c" stroke-width="0.5">500</text>
<text x="513.50" y="348.80" font-family="'Liberation Sans', 'DejaVu Sans', sans-serif" font-size="14" font-weight="normal" fill="#24242c" textLength="79.70" lengthAdjust="spacingAndGlyphs" stroke="#24242c" stroke-width="0.5">Sample index</text>
<text transform="translate(379.0,290.8) rotate(-90)" x="0" y="0" font-family="'Liberation Sans', 'DejaVu Sans', sans-serif" font-size="14" fill="#24242c" stroke="#24242c" stroke-width="0.55" textLength="62.20" lengthAdjust="spacingAndGlyphs">Amplitude</text>
<text x="376.20" y="348.80" font-family="'Liberation Serif', 'DejaVu Serif', serif" font-size="12" font-weight="bold" fill="#000" textLength="14.50" lengthAdjust="spacingAndGlyphs" stroke="#000" stroke-width="0.55">(d)</text>
<rect x="343" y="178" width="230.29999999999995" height="27" fill="#b7b7b7"/>
<rect x="343" y="205" width="342" height="3.10" fill="#d2d2d2"/>
<rect x="573.3" y="178" width="108.70000000000005" height="23.5" fill="#d5d5d5"/>
<rect x="573.3" y="201.5" width="108.70000000000005" height="1.3" fill="#a9a9a9"/>
<rect x="573.3" y="178" width="2" height="23.5" fill="#e0e0e0"/>
<rect x="670.7" y="178" width="11.299999999999955" height="23.5" fill="url(#lgrad)"/>
<text x="347.50" y="200.00" font-family="'Liberation Sans', 'DejaVu Sans', sans-serif" font-size="14.8" font-weight="normal" fill="#24242c" textLength="224.50" lengthAdjust="spacingAndGlyphs" stroke="#24242c" stroke-width="0.55">Current ratios (Rmia, Rmib and Rmic)</text>
<text x="589.60" y="193.80" font-family="'Liberation Sans', 'DejaVu Sans', sans-serif" font-size="14" font-weight="normal" fill="#2a2a3e" textLength="34.40" lengthAdjust="spacingAndGlyphs" stroke="#2a2a3e" stroke-width="0.6">Plot 0</text>
<rect x="637.3" y="180.0" width="31.40000000000009" height="19.599999999999994" fill="#000"/>
<polyline points="639.50,194.40 644.30,190.50 648.80,186.60 653.60,182.70 657.30,185.80 662.30,190.00 666.70,194.40" fill="none" stroke="#f4f4f4" stroke-width="1.8" stroke-linejoin="round" stroke-linecap="round"/>
<rect x="341" y="0" width="2" height="357" fill="#8a8a8a"/>
<rect x="0" y="176" width="685" height="1.5" fill="#9c9c9c"/>
<rect x="0" y="353.6" width="685" height="1.2" fill="#8c8c8c"/>
<rect x="0" y="354.8" width="685" height="2.2" fill="#eeeeee"/>
<polygon points="564.60,27.80 564.60,42.30 568.00,39.10 570.80,44.60 572.80,43.70 570.20,38.40 574.80,38.40" fill="#f4f4f4" stroke="#202020" stroke-width="0.8" stroke-linejoin="miter"/>
</g>
</svg>
</body></html>
